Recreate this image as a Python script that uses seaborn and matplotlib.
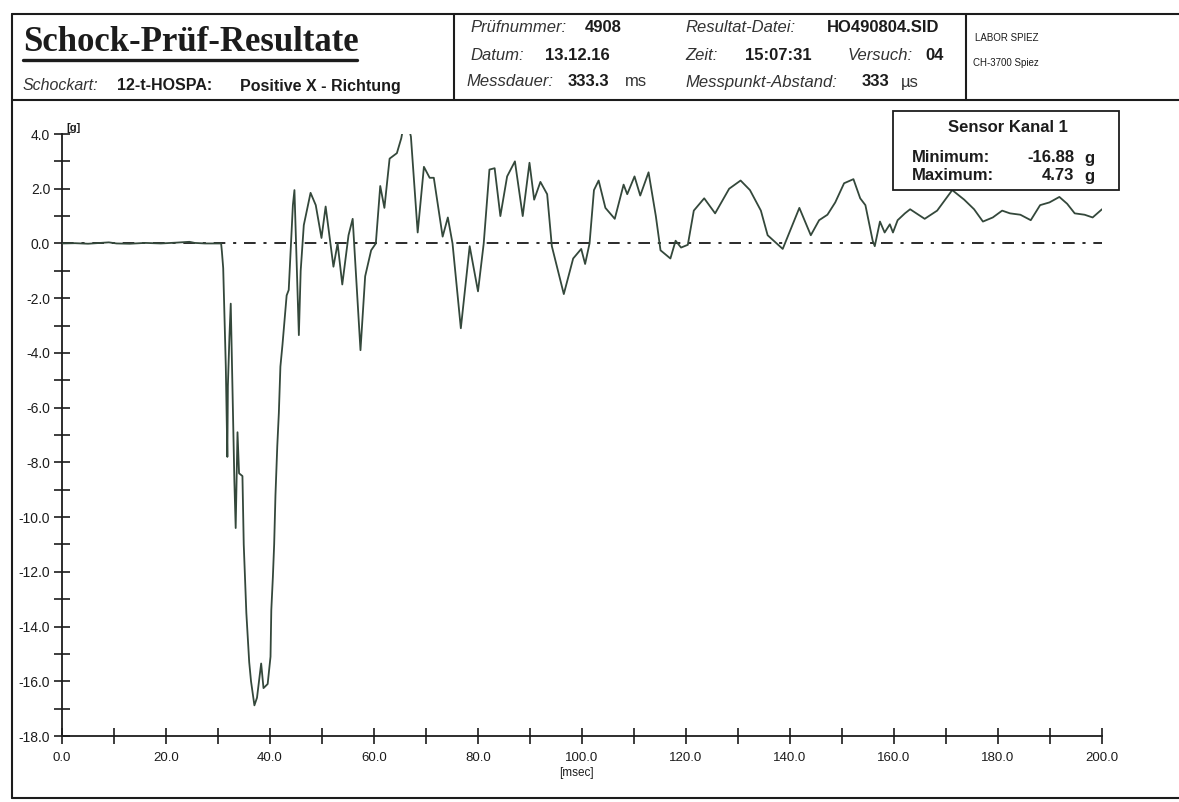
import numpy as np
import matplotlib
matplotlib.use("Agg")
import matplotlib.pyplot as plt
from matplotlib.lines import Line2D
from matplotlib.patches import Rectangle
from matplotlib.ticker import FuncFormatter, MultipleLocator
import seaborn as sns

# ---------------- data ----------------
time_ms = [0.0, 2.5, 5.0, 7.5, 9.0, 10.5, 13.0, 16.0, 19.0, 22.0, 24.5, 25.5, 27.5, 30.6,
           30.75, 31.0, 31.5, 31.8, 31.9, 32.2, 32.45, 33.15, 33.4, 33.75, 34.05, 34.7, 34.95,
           35.45, 36.0, 36.35, 37.0, 37.5, 37.95, 38.3, 38.75, 39.55, 40.1, 40.25, 40.55, 40.8,
           41.05, 41.4, 41.7, 42.0, 42.4, 43.2, 43.6, 44.05, 44.4, 44.7, 45.55, 45.9, 46.5, 47.8,
           48.8, 49.9, 50.7, 52.2, 53.0, 53.9, 55.1, 55.9, 57.4, 58.3, 59.45, 60.35, 61.2, 62.0,
           63.0, 64.4, 65.25, 66.1, 67.1, 68.4, 69.6, 70.7, 71.5, 73.2, 74.2, 75.1, 76.7, 78.4,
           80.0, 81.1, 82.2, 83.2, 84.3, 85.6, 87.1, 88.6, 89.9, 90.8, 92.0, 93.3, 94.2, 96.5,
           98.3, 99.85, 100.6, 101.45, 102.3, 103.2, 104.5, 106.3, 108.0, 108.7, 110.1, 111.2,
           112.8, 114.2, 115.1, 117.0, 118.0, 119.05, 120.35, 121.5, 123.5, 125.6, 128.3, 130.5,
           132.3, 134.4, 135.7, 138.6, 140.1, 141.8, 144.0, 145.6, 147.2, 148.7, 150.4, 152.2,
           153.5, 154.5, 155.9, 156.3, 157.3, 158.2, 159.2, 159.8, 160.7, 162.1, 163.1, 165.9,
           168.3, 171.2, 173.5, 175.4, 177.1, 179.0, 180.8, 182.3, 184.3, 186.3, 188.1, 189.9,
           191.8, 193.3, 194.75, 196.65, 198.2, 200.0]

accel_g = [0.0, 0.01, -0.01, 0.02, 0.04, 0.0, -0.01, 0.02, 0.0, 0.03, 0.06, 0.02, 0.0, 0.0,
           -0.3, -0.9, -4.5, -7.8, -5.2, -3.4, -2.2, -8.7, -10.4, -6.9, -8.4, -8.5, -11.0,
           -13.5, -15.3, -16.0, -16.88, -16.6, -15.9, -15.35, -16.25, -16.1, -15.1, -13.4, -12.2, -11.0,
           -9.2, -7.4, -6.2, -4.5, -3.7, -1.9, -1.7, 0.0, 1.4, 1.95, -3.35, -1.0, 0.67, 1.85,
           1.4, 0.2, 1.35, -0.85, 0.0, -1.5, 0.3, 0.9, -3.9, -1.2, -0.25, 0.0, 2.1, 1.3,
           3.1, 3.3, 3.85, 4.73, 3.9, 0.4, 2.8, 2.4, 2.4, 0.25, 0.95, 0.0, -3.1, -0.1,
           -1.75, 0.0, 2.7, 2.75, 1.0, 2.45, 3.0, 1.0, 2.95, 1.6, 2.25, 1.8, -0.1, -1.85,
           -0.55, -0.2, -0.75, 0.0, 1.95, 2.3, 1.3, 0.9, 2.15, 1.8, 2.45, 1.75,
           2.6, 1.0, -0.25, -0.55, 0.1, -0.15, -0.05, 1.2, 1.65, 1.1, 2.0, 2.3,
           1.95, 1.2, 0.3, -0.2, 0.5, 1.3, 0.3, 0.85, 1.05, 1.5, 2.2, 2.35,
           1.65, 1.4, 0.1, -0.1, 0.8, 0.4, 0.7, 0.4, 0.85, 1.1, 1.25, 0.9,
           1.2, 1.95, 1.6, 1.25, 0.8, 0.95, 1.2, 1.1, 1.05, 0.85, 1.4, 1.5,
           1.7, 1.45, 1.1, 1.05, 0.95, 1.25]

x_limits = [0.0, 200.0]
y_limits = [-18.0, 4.0]
x_major_step, x_minor_step = 20.0, 10.0
y_major_step, y_minor_step = 2.0, 1.0

title = "Schock-Prüf-Resultate"
shock_label, shock_type, shock_dir = "Schockart:", "12-t-HOSPA:", "Positive X - Richtung"
sensor_title = "Sensor Kanal 1"
stat_names = ["Minimum:", "Maximum:"]
stat_values = ["-16.88", "4.73"]

# ---------------- style ----------------
sns.set_style("white")
plt.rcParams["font.family"] = ["Liberation Sans", "DejaVu Sans"]
plt.rcParams["axes.unicode_minus"] = False

W, H = 1179, 802
INK = "#1c1c1c"
LINE = "#34483b"

fig = plt.figure(figsize=(W / 100, H / 100), dpi=100)
fig.patch.set_facecolor("white")


def fx(x):
    return x / W


def fy(y):
    return 1 - y / H


def txt(x, y, s, **kw):
    kw.setdefault("color", INK)
    return fig.text(fx(x), fy(y), s, **kw)


def hline(x0, x1, y, lw=1.5):
    fig.add_artist(Line2D([fx(x0), fx(x1)], [fy(y), fy(y)], transform=fig.transFigure,
                          color=INK, lw=lw))


def vline(x, y0, y1, lw=1.5):
    fig.add_artist(Line2D([fx(x), fx(x)], [fy(y0), fy(y1)], transform=fig.transFigure,
                          color=INK, lw=lw))


# ---------------- frame & header ----------------
hline(12, W, 14)
hline(12, W, 100)
hline(12, W, 798)
vline(12, 14, 798)
vline(454, 14, 100)
vline(966, 14, 100)

txt(23, 51, title, family="Liberation Serif", weight="bold", fontsize=25, va="baseline")
hline(23, 357, 60, lw=2.4)

txt(23, 86, shock_label, style="italic", fontsize=11.5, va="center", color="#333333")
txt(117, 86, shock_type, weight="bold", fontsize=11.5, va="center")
txt(240, 86, shock_dir, weight="bold", fontsize=11.5, va="center")

rows = [28, 55, 82]
it = dict(style="italic", fontsize=12, va="center", color="#333333")
bd = dict(weight="bold", fontsize=12, va="center")
rg = dict(fontsize=12, va="center", color="#333333")
txt(470, rows[0], "Prüfnummer:", **it)
txt(585, rows[0], "4908", **bd)
txt(685, rows[0], "Resultat-Datei:", **it)
txt(827, rows[0], "HO490804.SID", **bd)
txt(470, rows[1], "Datum:", **it)
txt(545, rows[1], "13.12.16", **bd)
txt(685, rows[1], "Zeit:", **it)
txt(745, rows[1], "15:07:31", **bd)
txt(848, rows[1], "Versuch:", **it)
txt(925, rows[1], "04", **bd)
txt(466, rows[2], "Messdauer:", **it)
txt(568, rows[2], "333.3", **bd)
txt(625, rows[2], "ms", **rg)
txt(685, rows[2], "Messpunkt-Abstand:", **it)
txt(862, rows[2], "333", **bd)
txt(901, rows[2], "µs", **rg)

txt(975, 38, "LABOR SPIEZ", fontsize=7, va="center")
txt(973, 63, "CH-3700 Spiez", fontsize=7, va="center")

# ---------------- chart ----------------
ax_left, ax_right, ax_top, ax_bottom = 62, 1102, 134, 736
ax = fig.add_axes([fx(ax_left), fy(ax_bottom), (ax_right - ax_left) / W, (ax_bottom - ax_top) / H])
ax.set_facecolor("white")

sns.lineplot(x=time_ms, y=accel_g, ax=ax, color=LINE, linewidth=1.3,
             estimator=None, sort=False, zorder=3)
ax.axhline(0, color="#2a2a2a", lw=1.4, ls=(0, (6, 4, 1.6, 4)), zorder=2)

ax.set_xlim(*x_limits)
ax.set_ylim(*y_limits)
for s in ["top", "right"]:
    ax.spines[s].set_visible(False)
for s in ["left", "bottom"]:
    ax.spines[s].set_color(INK)
    ax.spines[s].set_linewidth(1.3)

ax.xaxis.set_major_locator(MultipleLocator(x_major_step))
ax.xaxis.set_minor_locator(MultipleLocator(x_minor_step))
ax.yaxis.set_major_locator(MultipleLocator(y_major_step))
ax.yaxis.set_minor_locator(MultipleLocator(y_minor_step))
fmt = FuncFormatter(lambda v, p: f"{v:.1f}")
ax.xaxis.set_major_formatter(fmt)
ax.yaxis.set_major_formatter(fmt)
ax.tick_params(which="both", direction="inout", length=11, width=1.2, color=INK,
               bottom=True, left=True)
ax.tick_params(axis="x", which="major", pad=6, labelsize=9.5, labelcolor=INK)
ax.tick_params(axis="y", which="major", pad=3, labelsize=10, labelcolor=INK)
ax.set_xlabel("")
ax.set_ylabel("")
ax.grid(False)

txt(ax_left + 4, ax_top - 1, "[g]", fontsize=8, weight="bold", va="bottom", ha="left")
txt(576, 773, "[msec]", fontsize=8.5, va="center", ha="center")

# ---------------- sensor box ----------------
bx0, by0, bx1, by1 = 893, 111, 1119, 190
fig.add_artist(Rectangle((fx(bx0), fy(by1)), (bx1 - bx0) / W, (by1 - by0) / H,
                         transform=fig.transFigure, facecolor="white", edgecolor=INK,
                         lw=1.3, zorder=10))
txt((bx0 + bx1) / 2 + 2, 128, sensor_title, weight="bold", fontsize=12, ha="center",
    va="center", zorder=11)
for yy, name, val in zip([158, 176], stat_names, stat_values):
    txt(912, yy, name, weight="bold", fontsize=12, va="center", zorder=11)
    txt(1074, yy, val, weight="bold", fontsize=12, va="center", ha="right", zorder=11)
    txt(1084, yy, "g", weight="bold", fontsize=12, va="center", zorder=11)

fig.savefig("out.png", dpi=100, facecolor="white")
